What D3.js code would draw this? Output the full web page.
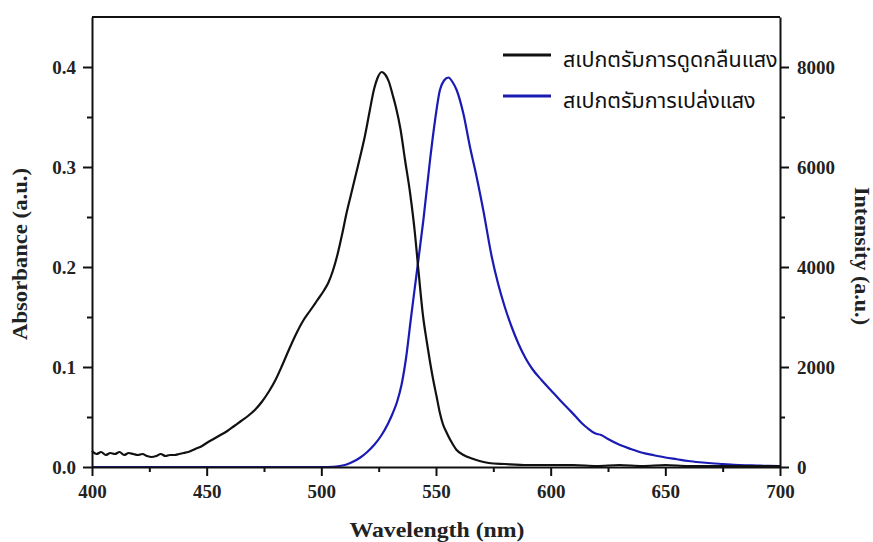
<!DOCTYPE html>
<meta charset="utf-8">
<style>
    body { margin: 0; background: #fff; }
    .axis text { font-family: 'Liberation Serif', 'DejaVu Serif', serif; font-weight: bold; font-size: 19px; fill: #222; }
    .axis path, .axis line { stroke: #111; stroke-width: 2; }
    .title { font-family: 'Liberation Serif', 'DejaVu Serif', serif; font-weight: bold; fill: #222; }
    .legend text { font-family: 'Noto Sans Thai', 'Noto Sans', sans-serif; font-size: 21.5px; fill: #111; }
</style>
<body>
<script src="https://cdnjs.cloudflare.com/ajax/libs/d3/7.8.5/d3.min.js"></script>
<script>
// absorption spectrum (wavelength nm, absorbance a.u.)
var absWl = [400, 402, 404, 406, 408, 410, 412, 414, 416, 418, 420, 422, 424, 426, 428, 430, 432, 434, 436, 438, 440,
    442, 445, 448, 450, 453, 456, 459, 462, 465, 468, 471, 474, 477, 480, 483, 486, 489, 492, 495, 498, 501, 503, 505,
    507, 509, 511, 513, 515, 517, 519, 521, 523, 524.5, 526.3, 528, 529.5, 531, 532.5, 534.5, 536.5, 538.7, 540.8, 542,
    544.4, 546, 547.4, 548.8, 550.3, 551.7, 553, 554.7, 557, 559, 562, 565, 569, 573, 580, 590, 600, 610, 620, 630,
    640, 650, 660, 670, 680, 690, 700];
var absVal = [0.016, 0.013, 0.015, 0.012, 0.014, 0.013, 0.015, 0.012, 0.014, 0.013, 0.012, 0.013, 0.011, 0.010, 0.011,
    0.013, 0.011, 0.012, 0.012, 0.013, 0.014, 0.015, 0.018, 0.021, 0.024, 0.028, 0.032, 0.036, 0.041, 0.046, 0.051,
    0.057, 0.065, 0.075, 0.087, 0.102, 0.118, 0.133, 0.146, 0.156, 0.166, 0.176, 0.184, 0.196, 0.212, 0.232, 0.254,
    0.273, 0.292, 0.311, 0.331, 0.355, 0.378, 0.389, 0.395, 0.392, 0.385, 0.373, 0.360, 0.338, 0.307, 0.274, 0.234,
    0.205, 0.150, 0.125, 0.105, 0.087, 0.070, 0.054, 0.043, 0.034, 0.024, 0.017, 0.012, 0.009, 0.006, 0.004, 0.003,
    0.002, 0.002, 0.002, 0.001, 0.002, 0.001, 0.002, 0.001, 0.001, 0.001, 0.001, 0.001];

// emission spectrum (wavelength nm, intensity a.u.)
var emWl = [400, 450, 500, 505, 508, 511, 514, 517, 520, 523, 526, 529, 531, 533, 535, 537, 539, 541.5, 544.5,
    547.4, 549.6, 551.7, 553.5, 555.4, 557.2, 559, 561.9, 564.8, 567.7, 570.6, 574.3, 577, 580, 583, 586, 589, 592,
    596, 600, 604, 608, 611, 613.5, 616, 619.3, 622, 625, 630, 635, 640, 645, 650, 655, 660, 665, 670, 675, 680, 685,
    690, 695, 700];
var emVal = [0, 0, 0, 5, 20, 50, 110, 190, 300, 440, 620, 860, 1060, 1300, 1650, 2200, 2950, 3850, 4940,
    6140, 6940, 7540, 7730, 7790, 7700, 7540, 7073, 6406, 5806, 5140, 4206, 3680, 3200, 2800, 2460, 2180, 1960,
    1740, 1540, 1340, 1150, 1006, 880, 780, 674, 640, 560, 445, 360, 285, 235, 190, 155, 120, 95, 75, 60, 45, 35,
    28, 22, 20];

var xTicks = [400, 450, 500, 550, 600, 650, 700];
var xMinor = [425, 475, 525, 575, 625, 675];
var absTicks = [0, 0.1, 0.2, 0.3, 0.4];
var absMinor = [0.05, 0.15, 0.25, 0.35];
var emTicks = [0, 2000, 4000, 6000, 8000];
var emMinor = [1000, 3000, 5000, 7000];

var seriesNames = ['สเปกตรัมการดูดกลืนแสง', 'สเปกตรัมการเปล่งแสง'];
var seriesColors = ['#111111', '#1a1ab4'];

var width = 873, height = 542;
var plotLeft = 92, plotRight = 780, plotTop = 17, plotBottom = 467;

var svg = d3.select('body').append('svg')
    .attr('width', width)
    .attr('height', height);

var x = d3.scaleLinear().domain([400, 700]).range([plotLeft, plotRight]);
var yAbs = d3.scaleLinear().domain([0, 0.45]).range([plotBottom, plotTop]);
var yEm = d3.scaleLinear().domain([0, 9000]).range([plotBottom, plotTop]);

// curves
var absLine = d3.line()
    .x(function(d, i) { return x(absWl[i]); })
    .y(function(d) { return yAbs(d); })
    .curve(d3.curveMonotoneX);
var emLine = d3.line()
    .x(function(d, i) { return x(emWl[i]); })
    .y(function(d) { return yEm(d); })
    .curve(d3.curveMonotoneX);

svg.append('path').datum(emVal)
    .attr('d', emLine)
    .attr('fill', 'none')
    .attr('stroke', seriesColors[1])
    .attr('stroke-width', 2.2);

svg.append('path').datum(absVal)
    .attr('d', absLine)
    .attr('fill', 'none')
    .attr('stroke', seriesColors[0])
    .attr('stroke-width', 2.2);

// axes: major ticks with labels, minor ticks without
function drawAxis(axisFn, scale, major, minor, fmt, transform) {
    var g = svg.append('g').attr('class', 'axis').attr('transform', transform);
    g.call(axisFn(scale).tickValues(major).tickSize(9).tickSizeOuter(0).tickPadding(5).tickFormat(fmt));
    svg.append('g').attr('class', 'axis').attr('transform', transform)
        .call(axisFn(scale).tickValues(minor).tickSize(5).tickSizeOuter(0).tickFormat(''))
        .select('.domain').remove();
    return g;
}

drawAxis(d3.axisBottom, x, xTicks, xMinor, d3.format('d'), 'translate(0,' + plotBottom + ')')
    .selectAll('text').attr('dy', '0.9em');
drawAxis(d3.axisLeft, yAbs, absTicks, absMinor, d3.format('.1f'), 'translate(' + plotLeft + ',0)')
    .selectAll('text').attr('dx', '-2');
drawAxis(d3.axisRight, yEm, emTicks, emMinor, d3.format('d'), 'translate(' + plotRight + ',0)')
    .selectAll('text').attr('dx', '3');

// top frame
svg.append('line')
    .attr('x1', plotLeft).attr('x2', plotRight)
    .attr('y1', plotTop).attr('y2', plotTop)
    .attr('stroke', '#111').attr('stroke-width', 2);

// axis titles
svg.append('text').attr('class', 'title')
    .attr('x', 437).attr('y', 537)
    .attr('text-anchor', 'middle')
    .attr('textLength', 175).attr('lengthAdjust', 'spacingAndGlyphs')
    .style('font-size', '21px')
    .text('Wavelength (nm)');

svg.append('text').attr('class', 'title')
    .attr('transform', 'translate(27,254) rotate(-90)')
    .attr('text-anchor', 'middle')
    .attr('textLength', 172).attr('lengthAdjust', 'spacingAndGlyphs')
    .style('font-size', '20px')
    .text('Absorbance (a.u.)');

svg.append('text').attr('class', 'title')
    .attr('transform', 'translate(855,256) rotate(90)')
    .attr('text-anchor', 'middle')
    .attr('textLength', 138).attr('lengthAdjust', 'spacingAndGlyphs')
    .style('font-size', '20px')
    .text('Intensity (a.u.)');

// legend
var legend = svg.append('g').attr('class', 'legend');
var item = legend.selectAll('g').data(seriesNames).enter().append('g')
    .attr('transform', function(d, i) { return 'translate(503,' + (55 + i * 41) + ')'; });
item.append('line')
    .attr('x1', 0).attr('x2', 48)
    .attr('stroke', function(d, i) { return seriesColors[i]; })
    .attr('stroke-width', 3);
item.append('text')
    .attr('x', 60).attr('y', 12)
    .text(function(d) { return d; });
</script>
</body>
